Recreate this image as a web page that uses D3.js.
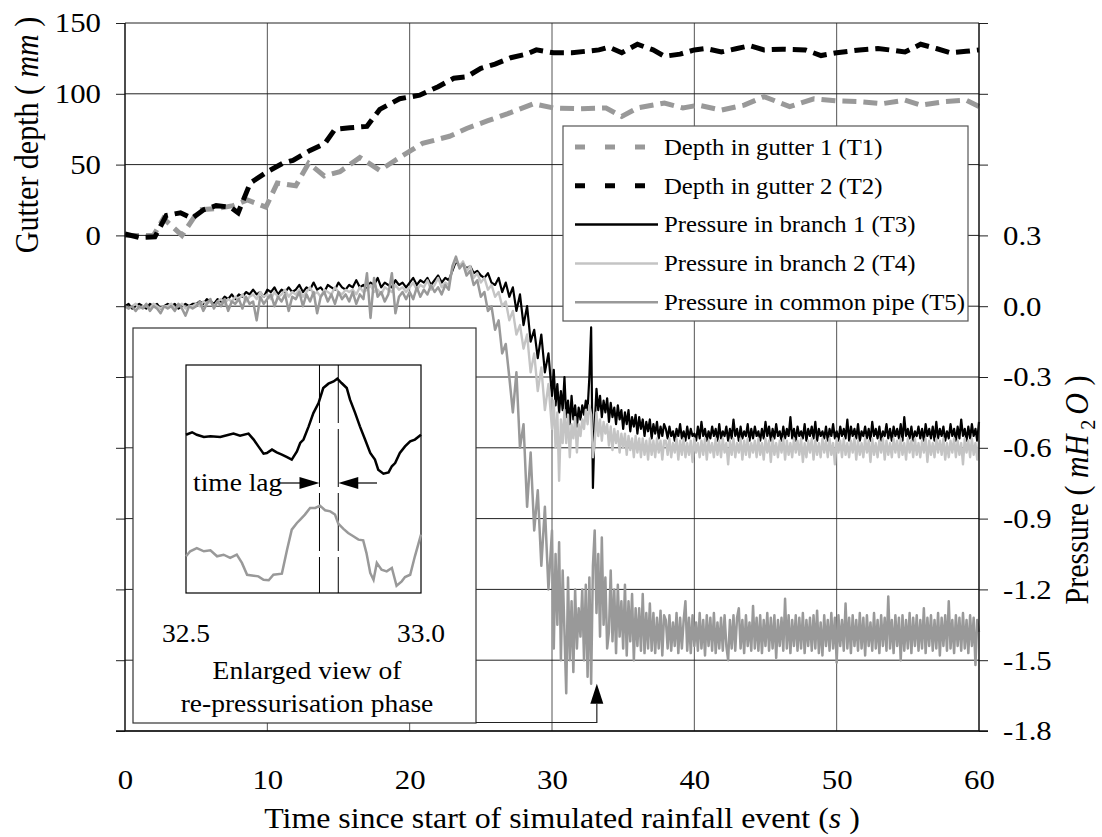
<!DOCTYPE html>
<html>
<head>
<meta charset="utf-8">
<script src="https://cdn.jsdelivr.net/npm/d3@7"></script>
<style>
  body { margin: 0; background: #fff; }
  text { font-family: "Liberation Serif", "Times New Roman", serif; fill: #000; }
</style>
</head>
<body>
<div class="canvas"></div>
<script>
// axis labels
const timeTicks = [0, 10, 20, 30, 40, 50, 60]
const depthTicks = [0, 50, 100, 150]
const pressureTicks = [-1.8, -1.5, -1.2, -0.9, -0.6, -0.3, 0.0, 0.3]
const insetTicks = [32.5, 33.0]

const seriesNames = [
  "Depth in gutter 1 (T1)",
  "Depth in gutter 2 (T2)",
  "Pressure in branch 1 (T3)",
  "Pressure in branch 2 (T4)",
  "Pressure in common pipe (T5)"
]

// gutter depth [time s, depth mm]
const gutter1 = [[0,0],[2.0,0],[2.7,12],[4.0,0],[5.2,18],[6.5,19],[7.6,21],[8.6,25],[9.9,20],[10.7,37],
  [12.0,35],[12.9,51],[14.0,42],[15.1,45],[16.5,55],[17.9,46],[19.3,55],[20.1,60],[20.9,65],[22.8,70],
  [24.0,75.5],[25.5,81],[26.9,86],[28.7,93],[30.1,90],[32.0,89.5],[33.8,90],[34.9,84],[36.0,90],[37.9,93.5],
  [39.2,90],[40.3,92],[41.9,88.5],[43.5,92],[44.9,98],[46.7,91],[48.4,96.5],[50.0,95],[51.6,94.5],[53.2,93],
  [54.8,95.5],[55.9,92],[57.6,94.5],[59.1,95.5],[60,91]]

const gutter2 = [[0,1],[1.05,-1.5],[2.1,-1],[2.9,14],[3.9,16],[4.7,12],[5.5,18],[6.4,21],[7.4,20],[7.95,16],
  [8.8,37],[10.0,45],[11.1,51],[11.8,53],[13.0,60],[14.05,65],[14.75,75],[15.8,76],[17.0,77],[17.9,89],
  [19.3,96.5],[20.7,99],[22.0,105],[23.1,111],[24.0,112],[25.0,118],[26.0,121],[27.1,125.5],[28.2,128],[28.9,131],
  [30.1,129],[31.4,129],[33.3,131],[34.0,133],[34.9,129],[36.0,135],[37.1,131],[37.9,126.5],[39.0,128],[40.0,131],
  [40.8,132],[41.9,129.5],[43.0,132],[43.9,134],[44.9,131],[46.2,131.5],[47.8,131],[48.9,127],[50.0,129],[51.6,131],
  [52.9,132],[53.7,131],[54.8,129.5],[55.9,135],[57.0,132],[58.0,129],[59.1,130],[60,131]]

// pressures (m H2O): every 0.25 s up to 30 s, then every 0.125 s
const stepEarly = 0.25
const lateStart = 30
const stepLate = 0.125

const branch1Early = [
  0.00,0.01,-0.01,0.00,0.01,0.00,-0.01,0.01,0.00,0.01,-0.01,0.00,0.01,0.00,0.01,-0.01,0.00,0.01,0.00,0.01,
  0.01,0.02,0.01,0.03,0.02,0.01,0.03,0.02,0.04,0.03,0.05,0.03,
  0.05,0.04,0.06,0.05,0.07,0.05,0.06,0.04,0.07,0.06,0.08,0.05,0.07,0.06,0.08,0.06,
  0.07,0.09,0.06,0.08,0.07,0.10,0.07,0.08,0.06,0.09,0.08,0.07,0.10,0.08,0.07,0.09,
  0.08,0.11,0.08,0.09,0.07,0.10,0.09,0.12,0.08,0.10,0.09,0.08,0.11,0.09,0.10,0.08,
  0.10,0.12,0.09,0.11,0.10,0.12,0.09,0.11,0.13,0.10,0.12,0.11,
  0.15,0.19,0.17,0.18,0.16,0.17,0.14,0.15,0.13,0.12,0.14,0.10,0.09,0.12,0.06,0.10,0.04,0.08,-0.02,0.05,
  -0.08,0.00,-0.15,-0.10,-0.22,-0.12,-0.28,-0.20
]
const branch1Late = [
  -0.38,-0.27,-0.42,-0.33,-0.45,-0.36,-0.44,-0.30,
  -0.47,-0.40,-0.50,-0.38,-0.48,-0.42,-0.51,-0.43,
  -0.48,-0.42,-0.46,-0.40,-0.44,-0.30,-0.09,-0.77,
  -0.50,-0.35,-0.44,-0.38,-0.47,-0.40,-0.45,-0.39,
  -0.49,-0.41,-0.47,-0.43,-0.50,-0.42,-0.48,-0.44,
  -0.52,-0.45,-0.50,-0.44,-0.53,-0.47,-0.51,-0.46,
  -0.54,-0.47,-0.52,-0.48,-0.55,-0.49,-0.53,-0.48,
  -0.56,-0.50,-0.54,-0.49,-0.56,-0.51,-0.55,-0.50,
  -0.52,-0.56,-0.51,-0.55,-0.53,-0.57,-0.52,-0.55,-0.50,-0.56,
  -0.53,-0.57,-0.51,-0.56,-0.52,-0.55,-0.54,-0.57,-0.51,-0.56,
  -0.49,-0.55,-0.52,-0.57,-0.53,-0.56,-0.51,-0.55,-0.52,-0.57,
  -0.50,-0.56,-0.53,-0.55,-0.51,-0.57,-0.52,-0.56,-0.48,-0.55,
  -0.52,-0.57,-0.51,-0.56,-0.53,-0.55,-0.50,-0.57,-0.52,-0.56,
  -0.51,-0.55,-0.53,-0.57,-0.52,-0.56,-0.49,-0.55,-0.51,-0.57,
  -0.52,-0.56,-0.50,-0.55,-0.53,-0.57,-0.51,-0.56,-0.52,-0.55,
  -0.47,-0.56,-0.52,-0.57,-0.51,-0.55,-0.53,-0.56,-0.50,-0.57,
  -0.52,-0.55,-0.51,-0.56,-0.49,-0.57,-0.52,-0.55,-0.53,-0.56,
  -0.51,-0.57,-0.52,-0.55,-0.50,-0.56,-0.53,-0.57,-0.51,-0.55,
  -0.52,-0.56,-0.48,-0.57,-0.51,-0.55,-0.52,-0.56,-0.50,-0.57,
  -0.53,-0.55,-0.51,-0.56,-0.52,-0.57,-0.49,-0.55,-0.52,-0.56,
  -0.51,-0.57,-0.53,-0.55,-0.50,-0.56,-0.52,-0.57,-0.51,-0.55,
  -0.52,-0.56,-0.50,-0.57,-0.47,-0.55,-0.52,-0.56,-0.51,-0.57,
  -0.53,-0.55,-0.51,-0.56,-0.52,-0.57,-0.50,-0.55,-0.52,-0.56,
  -0.51,-0.57,-0.49,-0.56,-0.52,-0.55,-0.51,-0.57,-0.53,-0.56,
  -0.50,-0.55,-0.52,-0.57,-0.51,-0.56,-0.48,-0.55,-0.52,-0.57,
  -0.51,-0.56,-0.50,-0.55,-0.52,-0.57,-0.49
]

const branch2Early = [
  0.00,-0.01,0.00,0.01,-0.01,0.00,0.00,-0.01,0.01,0.00,-0.01,0.00,0.00,0.01,-0.01,0.00,0.01,-0.01,0.00,0.00,
  0.01,0.00,0.02,0.01,0.02,0.00,0.02,0.03,0.01,0.03,0.02,0.04,
  0.03,0.05,0.02,0.04,0.05,0.03,0.06,0.04,0.05,0.03,0.06,0.04,0.05,0.07,0.04,0.06,
  0.05,0.07,0.04,0.06,0.08,0.05,0.06,0.04,0.07,0.06,0.05,0.08,0.06,0.05,0.07,0.06,
  0.07,0.05,0.08,0.06,0.07,0.09,0.06,0.07,0.05,0.08,0.07,0.06,0.09,0.07,0.08,0.06,
  0.08,0.10,0.07,0.09,0.08,0.11,0.07,0.09,0.12,0.08,0.10,0.09,
  0.16,0.20,0.17,0.19,0.15,0.17,0.12,0.14,0.10,0.12,0.07,0.09,0.04,0.06,0.00,0.02,-0.06,-0.02,-0.12,-0.08,
  -0.18,-0.12,-0.28,-0.20,-0.36,-0.26,-0.44,-0.33
]
const branch2Late = [
  -0.52,-0.40,-0.60,-0.45,-0.74,-0.48,-0.58,-0.44,
  -0.58,-0.46,-0.64,-0.50,-0.56,-0.47,-0.62,-0.50,
  -0.55,-0.48,-0.52,-0.44,-0.50,-0.42,-0.46,-0.64,
  -0.58,-0.45,-0.55,-0.48,-0.57,-0.49,-0.54,-0.50,
  -0.59,-0.51,-0.61,-0.52,-0.58,-0.53,-0.62,-0.54,
  -0.60,-0.54,-0.63,-0.55,-0.61,-0.56,-0.64,-0.55,
  -0.62,-0.56,-0.64,-0.56,-0.63,-0.57,-0.65,-0.56,
  -0.63,-0.57,-0.64,-0.56,-0.62,-0.57,-0.65,-0.57,
  -0.57,-0.63,-0.56,-0.64,-0.58,-0.62,-0.56,-0.65,-0.57,-0.63,
  -0.56,-0.64,-0.58,-0.63,-0.57,-0.66,-0.56,-0.62,-0.58,-0.64,
  -0.57,-0.63,-0.56,-0.65,-0.57,-0.62,-0.58,-0.64,-0.56,-0.63,
  -0.57,-0.64,-0.56,-0.62,-0.58,-0.67,-0.57,-0.63,-0.56,-0.64,
  -0.58,-0.62,-0.56,-0.65,-0.57,-0.63,-0.56,-0.64,-0.58,-0.62,
  -0.57,-0.64,-0.56,-0.63,-0.58,-0.65,-0.56,-0.62,-0.57,-0.66,
  -0.56,-0.63,-0.58,-0.64,-0.57,-0.62,-0.56,-0.65,-0.57,-0.63,
  -0.58,-0.64,-0.56,-0.62,-0.57,-0.63,-0.56,-0.66,-0.58,-0.64,
  -0.57,-0.62,-0.56,-0.65,-0.57,-0.63,-0.58,-0.64,-0.56,-0.62,
  -0.57,-0.64,-0.56,-0.63,-0.58,-0.67,-0.56,-0.62,-0.57,-0.64,
  -0.56,-0.63,-0.58,-0.64,-0.57,-0.62,-0.56,-0.65,-0.57,-0.63,
  -0.58,-0.64,-0.56,-0.62,-0.57,-0.66,-0.56,-0.63,-0.58,-0.64,
  -0.57,-0.62,-0.56,-0.65,-0.57,-0.63,-0.58,-0.64,-0.56,-0.62,
  -0.57,-0.64,-0.56,-0.63,-0.58,-0.65,-0.56,-0.62,-0.57,-0.64,
  -0.56,-0.63,-0.58,-0.64,-0.57,-0.62,-0.56,-0.66,-0.57,-0.63,
  -0.58,-0.64,-0.56,-0.62,-0.57,-0.63,-0.56,-0.65,-0.58,-0.64,
  -0.57,-0.62,-0.56,-0.64,-0.57,-0.63,-0.58,-0.67,-0.56,-0.62,
  -0.57,-0.64,-0.56,-0.63,-0.58,-0.65,-0.57
]

const commonPipeEarly = [
  0.00,-0.01,0.00,-0.02,0.00,-0.01,0.01,-0.02,0.00,-0.01,-0.03,0.00,-0.01,0.00,-0.02,0.01,-0.01,-0.04,0.00,-0.01,
  0.00,0.02,-0.02,0.01,0.03,-0.01,0.02,0.00,0.03,-0.02,0.02,0.01,
  0.03,-0.01,0.04,0.01,0.02,-0.06,0.04,0.01,0.03,0.05,0.00,0.04,0.02,0.05,-0.02,0.04,
  0.03,0.06,0.00,0.05,0.02,0.06,-0.03,0.04,0.06,0.02,0.05,0.01,0.06,0.03,0.05,0.02,
  0.06,0.01,0.05,0.03,0.14,-0.05,0.12,0.04,0.06,0.02,0.05,0.14,-0.03,0.04,0.06,0.03,
  0.06,0.03,0.08,0.04,0.07,0.05,0.09,0.06,0.08,0.05,0.09,0.07,
  0.17,0.21,0.16,0.18,0.13,0.15,0.09,0.11,0.04,0.06,-0.02,0.00,-0.10,-0.06,-0.20,-0.16,-0.30,-0.45,-0.28,-0.60,
  -0.50,-0.85,-0.62,-0.95,-0.78,-1.10,-0.85,-1.20
]
const commonPipeLate = [
  -0.95,-1.45,-1.05,-1.35,-1.00,-1.50,-1.12,-1.38,
  -1.64,-1.15,-1.50,-1.25,-1.55,-1.20,-1.45,-1.28,
  -1.40,-1.20,-1.50,-1.18,-1.57,-1.15,-1.60,-1.10,
  -0.95,-1.30,-1.05,-1.40,-0.98,-1.35,-1.15,-1.45,
  -1.38,-1.12,-1.42,-1.20,-1.47,-1.18,-1.40,-1.25,
  -1.45,-1.18,-1.48,-1.25,-1.42,-1.22,-1.50,-1.28,
  -1.44,-1.28,-1.46,-1.22,-1.47,-1.30,-1.45,-1.26,
  -1.46,-1.30,-1.47,-1.32,-1.45,-1.29,-1.48,-1.31,
  -1.33,-1.45,-1.31,-1.46,-1.34,-1.44,-1.30,-1.47,-1.32,-1.45,
  -1.33,-1.25,-1.46,-1.32,-1.47,-1.31,-1.44,-1.34,-1.46,-1.30,
  -1.45,-1.33,-1.48,-1.31,-1.44,-1.32,-1.46,-1.30,-1.47,-1.34,
  -1.45,-1.32,-1.46,-1.31,-1.44,-1.50,-1.33,-1.45,-1.31,-1.46,
  -1.32,-1.28,-1.45,-1.33,-1.47,-1.31,-1.44,-1.34,-1.46,-1.27,
  -1.45,-1.32,-1.46,-1.31,-1.47,-1.33,-1.44,-1.30,-1.46,-1.32,
  -1.45,-1.31,-1.49,-1.33,-1.44,-1.32,-1.46,-1.24,-1.45,-1.31,
  -1.47,-1.33,-1.44,-1.31,-1.46,-1.32,-1.45,-1.30,-1.47,-1.33,
  -1.44,-1.32,-1.46,-1.31,-1.45,-1.29,-1.47,-1.34,-1.48,-1.31,
  -1.44,-1.33,-1.46,-1.30,-1.45,-1.32,-1.51,-1.31,-1.44,-1.33,
  -1.46,-1.26,-1.45,-1.32,-1.47,-1.31,-1.44,-1.33,-1.46,-1.30,
  -1.45,-1.32,-1.48,-1.31,-1.44,-1.34,-1.46,-1.30,-1.45,-1.33,
  -1.47,-1.31,-1.44,-1.32,-1.46,-1.23,-1.45,-1.33,-1.47,-1.31,
  -1.44,-1.32,-1.50,-1.31,-1.46,-1.33,-1.45,-1.30,-1.47,-1.32,
  -1.44,-1.31,-1.46,-1.33,-1.45,-1.28,-1.47,-1.32,-1.44,-1.31,
  -1.46,-1.33,-1.45,-1.30,-1.48,-1.32,-1.44,-1.31,-1.46,-1.25,
  -1.45,-1.33,-1.47,-1.31,-1.44,-1.32,-1.46,-1.30,-1.45,-1.33,
  -1.47,-1.31,-1.44,-1.32,-1.52,-1.33,-1.38
]

// enlarged view, [time s, relative level %]
const insetBranch1 = [[32.500,69.4],[32.513,70.5],[32.523,69.4],[32.538,68.4],[32.552,68.7],[32.573,68.4],
  [32.591,69.4],[32.601,69.9],[32.615,69.0],[32.633,69.9],[32.644,67.3],[32.654,64.3],[32.665,61.1],[32.672,61.4],
  [32.683,62.9],[32.693,61.7],[32.704,60.7],[32.715,59.6],[32.725,58.5],[32.736,62.1],[32.743,65.8],[32.750,67.3],
  [32.761,73.1],[32.771,78.9],[32.782,83.3],[32.792,89.9],[32.803,91.8],[32.814,92.8],[32.822,94.0],[32.831,92.1],
  [32.842,89.9],[32.849,84.8],[32.860,78.9],[32.870,73.1],[32.881,67.3],[32.892,61.4],[32.902,58.5],[32.909,54.1],
  [32.920,52.3],[32.931,52.9],[32.938,55.6],[32.945,57.0],[32.955,61.4],[32.966,64.3],[32.977,66.5],[32.987,67.3],
  [33.000,69.4]]

const insetCommon = [[32.500,16.1],[32.509,18.3],[32.523,19.7],[32.538,18.3],[32.552,18.7],[32.566,16.1],
  [32.580,16.8],[32.594,15.4],[32.608,16.8],[32.619,13.2],[32.630,8.0],[32.644,7.6],[32.654,7.3],[32.665,5.8],
  [32.676,5.6],[32.686,8.0],[32.704,8.5],[32.715,19.0],[32.725,27.8],[32.736,30.7],[32.743,32.2],[32.753,34.4],
  [32.764,37.3],[32.775,37.3],[32.785,38.3],[32.796,36.3],[32.807,35.8],[32.817,34.4],[32.824,30.4],[32.835,28.1],
  [32.845,26.3],[32.856,24.9],[32.867,23.4],[32.877,23.1],[32.884,17.5],[32.892,8.8],[32.899,5.8],[32.906,13.2],
  [32.916,10.2],[32.927,9.5],[32.938,11.0],[32.948,3.2],[32.959,5.1],[32.966,7.0],[32.977,8.0],[32.987,16.1],
  [33.000,25.6]]

const timeLag = [32.784, 32.824]
const arrowTarget = [33.15, -1.6]

const width = 1102
const height = 837

const svg = d3.select(".canvas")
  .append("svg")
    .attr("width", width)
    .attr("height", height)

const x = d3.scaleLinear().domain([0, 60]).range([125, 979])
const yDepth = d3.scaleLinear().domain([-350, 150]).range([731, 23])
const yPress = d3.scaleLinear().domain([-1.8, 1.2]).range([731, 23])

const gridPress = pressureTicks.concat([0.6, 0.9, 1.2])

// the original type is a little wider than it is tall
function widen(sel) {
  sel.attr("transform", function () {
    const tx = +this.getAttribute("x") || 0
    const ty = +this.getAttribute("y") || 0
    return `translate(${tx},${ty}) scale(1.1,1) translate(${-tx},${-ty})`
  })
}

// grid
svg.append("g").selectAll("line")
  .data(timeTicks.slice(1, -1))
  .enter().append("line")
    .attr("x1", d => x(d)).attr("x2", d => x(d))
    .attr("y1", yPress(1.2)).attr("y2", yPress(-1.8))
    .attr("stroke", "#555").attr("stroke-width", 1)

svg.append("g").selectAll("line")
  .data(gridPress)
  .enter().append("line")
    .attr("x1", x(0)).attr("x2", x(60))
    .attr("y1", d => yPress(d)).attr("y2", d => yPress(d))
    .attr("stroke", "#222").attr("stroke-width", 1)

// pressure traces
const joinTrace = (early, late) =>
  early.map((v, i) => [i * stepEarly, v])
    .concat(late.map((v, i) => [lateStart + i * stepLate, v]))

const pLine = d3.line()
  .x(d => x(d[0]))
  .y(d => yPress(d[1]))

const pressureSeries = [
  { values: joinTrace(branch1Early, branch1Late), color: "#000", w: 2.2 },
  { values: joinTrace(branch2Early, branch2Late), color: "#c4c4c4", w: 2.4 },
  { values: joinTrace(commonPipeEarly, commonPipeLate), color: "#999", w: 2.5 }
]

svg.append("g").selectAll("path")
  .data(pressureSeries)
  .enter().append("path")
    .attr("d", d => pLine(d.values))
    .attr("fill", "none")
    .attr("stroke", d => d.color)
    .attr("stroke-width", d => d.w)
    .attr("stroke-linejoin", "round")

// gutter depths
const dLine = d3.line()
  .x(d => x(d[0]))
  .y(d => yDepth(d[1]))

const depthSeries = [
  { values: gutter1, color: "#999" },
  { values: gutter2, color: "#000" }
]

svg.append("g").selectAll("path")
  .data(depthSeries)
  .enter().append("path")
    .attr("d", d => dLine(d.values))
    .attr("fill", "none")
    .attr("stroke", d => d.color)
    .attr("stroke-width", 5)
    .attr("stroke-dasharray", "14,7")

// axes
const yAxisLeft = d3.axisLeft(yDepth)
  .tickValues(d3.range(-350, 151, 50))
  .tickSize(9)
  .tickPadding(15)
  .tickFormat(d => depthTicks.includes(d) ? d : "")

const yAxisRight = d3.axisRight(yPress)
  .tickValues(gridPress)
  .tickSize(9)
  .tickPadding(15)
  .tickFormat(d => pressureTicks.includes(d) ? d.toFixed(1) : "")

const xAxis = d3.axisBottom(x)
  .tickValues(timeTicks)
  .tickSize(0)
  .tickPadding(38)

const leftGroup = svg.append("g")
  .attr("transform", `translate(${x(0)}, 0)`)
  .call(yAxisLeft)
const rightGroup = svg.append("g")
  .attr("transform", `translate(${x(60)}, 0)`)
  .call(yAxisRight)
const bottomGroup = svg.append("g")
  .attr("transform", `translate(0, ${yPress(-1.8)})`)
  .call(xAxis)

;[leftGroup, rightGroup, bottomGroup].forEach(g => {
  g.select(".domain").remove()
  g.selectAll("line").attr("stroke", "#222")
  g.selectAll("text")
    .attr("font-family", '"Liberation Serif", serif')
    .attr("font-size", 28)
    .attr("fill", "#000")
    .call(widen)
})

svg.append("line")
  .attr("x1", x(0)).attr("x2", x(0))
  .attr("y1", yPress(1.2)).attr("y2", yPress(-1.8))
  .attr("stroke", "#111").attr("stroke-width", 1.5)
svg.append("line")
  .attr("x1", x(60)).attr("x2", x(60))
  .attr("y1", yPress(1.2)).attr("y2", yPress(-1.8))
  .attr("stroke", "#111").attr("stroke-width", 1.5)
svg.append("line")
  .attr("x1", x(0) - 9).attr("x2", x(60) + 9)
  .attr("y1", yPress(-1.8)).attr("y2", yPress(-1.8))
  .attr("stroke", "#111").attr("stroke-width", 1.5)

// legend
const legend = svg.append("g")
legend.append("rect")
  .attr("x", 563).attr("y", 126)
  .attr("width", 405).attr("height", 195)
  .attr("fill", "#fff").attr("stroke", "#555").attr("stroke-width", 1.2)

const legendStyle = [
  { color: "#999", w: 5, dash: "10,20" },
  { color: "#000", w: 5, dash: "10,20" },
  { color: "#000", w: 2.5, dash: null },
  { color: "#c4c4c4", w: 2.5, dash: null },
  { color: "#999", w: 2.5, dash: null }
]

const rows = legend.selectAll("g.row")
  .data(seriesNames)
  .enter().append("g")
    .attr("class", "row")
    .attr("transform", (d, i) => `translate(0, ${147 + i * 38.8})`)

rows.append("line")
  .attr("x1", 575).attr("x2", 658)
  .attr("stroke", (d, i) => legendStyle[i].color)
  .attr("stroke-width", (d, i) => legendStyle[i].w)
  .attr("stroke-dasharray", (d, i) => legendStyle[i].dash)

rows.append("text")
  .attr("x", 664)
  .attr("dy", "0.35em")
  .attr("font-size", 22.5)
  .text(d => d)
  .call(widen)

// inset with the enlarged view
const inset = svg.append("g")
inset.append("rect")
  .attr("x", 133).attr("y", 328)
  .attr("width", 343).attr("height", 395)
  .attr("fill", "#fff").attr("stroke", "#333").attr("stroke-width", 1.2)

const xi = d3.scaleLinear().domain(insetTicks).range([186, 421])
const yi = d3.scaleLinear().domain([0, 100]).range([593, 365])

inset.append("rect")
  .attr("x", xi(32.5)).attr("y", yi(100))
  .attr("width", xi(33.0) - xi(32.5)).attr("height", yi(0) - yi(100))
  .attr("fill", "none").attr("stroke", "#000").attr("stroke-width", 1.2)

inset.selectAll("line.lag")
  .data(timeLag)
  .enter().append("line")
    .attr("class", "lag")
    .attr("x1", d => xi(d)).attr("x2", d => xi(d))
    .attr("y1", yi(100)).attr("y2", yi(0))
    .attr("stroke", "#000").attr("stroke-width", 1)
    .attr("stroke-dasharray", "58,6")

const iLine = d3.line()
  .x(d => xi(d[0]))
  .y(d => yi(d[1]))

inset.append("path")
  .attr("d", iLine(insetCommon))
  .attr("fill", "none").attr("stroke", "#999").attr("stroke-width", 2.5)
inset.append("path")
  .attr("d", iLine(insetBranch1))
  .attr("fill", "none").attr("stroke", "#000").attr("stroke-width", 2.5)

// time lag arrows
const lagY = 483
inset.append("line")
  .attr("x1", 280).attr("x2", xi(timeLag[0]) - 18)
  .attr("y1", lagY).attr("y2", lagY)
  .attr("stroke", "#000").attr("stroke-width", 1.2)
inset.append("path")
  .attr("d", `M${xi(timeLag[0])},${lagY} l-20,-6 l0,12 z`)
  .attr("fill", "#000")
inset.append("line")
  .attr("x1", 377).attr("x2", xi(timeLag[1]) + 18)
  .attr("y1", lagY).attr("y2", lagY)
  .attr("stroke", "#000").attr("stroke-width", 1.2)
inset.append("path")
  .attr("d", `M${xi(timeLag[1])},${lagY} l20,-6 l0,12 z`)
  .attr("fill", "#000")

inset.append("text")
  .attr("x", 193).attr("y", lagY).attr("dy", "0.32em")
  .attr("font-size", 25)
  .text("time lag")
  .call(widen)

inset.selectAll("text.itick")
  .data(insetTicks)
  .enter().append("text")
    .attr("class", "itick")
    .attr("x", d => xi(d)).attr("y", 633).attr("dy", "0.35em")
    .attr("text-anchor", "middle")
    .attr("font-size", 25)
    .text(d => d.toFixed(1))
    .call(widen)

inset.append("text")
  .attr("x", 307).attr("y", 670).attr("dy", "0.35em")
  .attr("text-anchor", "middle").attr("font-size", 25)
  .text("Enlarged view of")
  .call(widen)
inset.append("text")
  .attr("x", 307).attr("y", 703).attr("dy", "0.35em")
  .attr("text-anchor", "middle").attr("font-size", 25)
  .text("re-pressurisation phase")
  .call(widen)

// connector from the inset to the spike
const ax = x(arrowTarget[0])
const ay = yPress(arrowTarget[1])
svg.append("path")
  .attr("d", `M476,722.5 H${ax} V${ay + 20}`)
  .attr("fill", "none").attr("stroke", "#222").attr("stroke-width", 1.2)
svg.append("path")
  .attr("d", `M${ax},${ay} l-6.5,20 l13,0 z`)
  .attr("fill", "#000")

// axis titles
const leftTitle = svg.append("text")
  .attr("transform", "translate(38, 135) rotate(-90) scale(1,1.1)")
  .attr("text-anchor", "middle")
  .attr("font-size", 30)
leftTitle.append("tspan").text("Gutter depth ( ")
leftTitle.append("tspan").attr("font-style", "italic").text("mm")
leftTitle.append("tspan").text(" )")

const rightTitle = svg.append("text")
  .attr("transform", "translate(1088, 490) rotate(-90) scale(1,1.1)")
  .attr("text-anchor", "middle")
  .attr("font-size", 30)
rightTitle.append("tspan").text("Pressure ( ")
rightTitle.append("tspan").attr("font-style", "italic").text("mH")
rightTitle.append("tspan").attr("font-size", 20).attr("dy", 6).text(" 2 ")
rightTitle.append("tspan").attr("font-style", "italic").attr("dy", -6).text("O")
rightTitle.append("tspan").text(" )")

const bottomTitle = svg.append("text")
  .attr("x", 562).attr("y", 828)
  .attr("text-anchor", "middle")
  .attr("font-size", 29)
  .call(widen)
bottomTitle.append("tspan").text("Time since start of simulated rainfall event (")
bottomTitle.append("tspan").attr("font-style", "italic").text("s")
bottomTitle.append("tspan").text(" )")
</script>
</body>
</html>
